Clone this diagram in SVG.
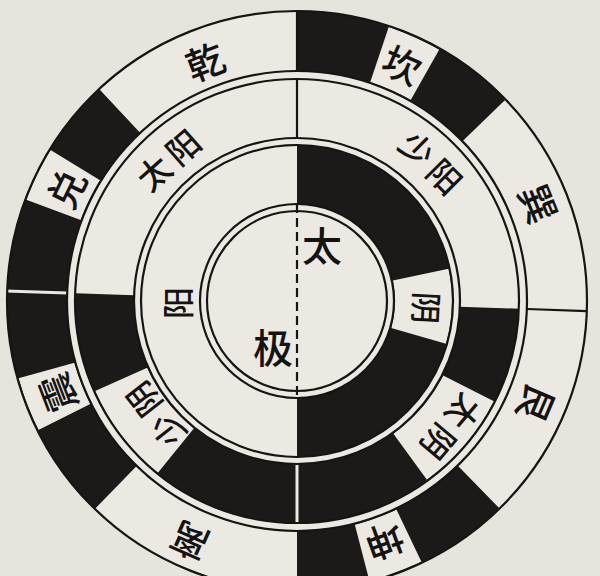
<svg xmlns="http://www.w3.org/2000/svg" width="600" height="576" viewBox="0 0 600 576">
<style>
.dk{fill:none;stroke:#1b1a19}
.wp{fill:none;stroke:#ece9e3}
.ln{fill:none;stroke:#161514;stroke-width:2.2}
.t{font-family:"Noto Sans CJK SC","Noto Sans CJK TC",sans-serif;fill:#141312;text-anchor:middle;dominant-baseline:central;font-weight:500}
.o{font-size:38px}
.m{font-size:33px;letter-spacing:6px}
.i{font-size:32px}
.c{font-size:40px}
</style>
<rect width="600" height="576" fill="#e7e4de"/>
<circle cx="297" cy="301" r="290" fill="#ece9e3"/>

<g id="outer-ring">
<circle class="dk" cx="297" cy="301" r="260" stroke-width="60" pathLength="360" stroke-dasharray="92.8 267.2" transform="rotate(-225.8 297 301)"/>
<circle class="dk" cx="297" cy="301" r="260" stroke-width="60" pathLength="360" stroke-dasharray="46 314" transform="rotate(-90 297 301)"/>
<circle class="dk" cx="297" cy="301" r="260" stroke-width="60" pathLength="360" stroke-dasharray="44.3 315.7" transform="rotate(-314.3 297 301)"/>
<circle class="wp" cx="297" cy="301" r="260" stroke-width="58" pathLength="360" stroke-dasharray="11 349" transform="rotate(-159.5 297 301)"/>
<circle class="wp" cx="297" cy="301" r="260" stroke-width="58" pathLength="360" stroke-dasharray="11 349" transform="rotate(-206.5 297 301)"/>
<circle class="wp" cx="297" cy="301" r="260" stroke-width="58" pathLength="360" stroke-dasharray="11 349" transform="rotate(-71.5 297 301)"/>
<circle class="wp" cx="297" cy="301" r="260" stroke-width="58" pathLength="360" stroke-dasharray="11 349" transform="rotate(64.5 297 301)"/>
<line x1="67.1" y1="293" x2="6" y2="290.9" stroke="#ece9e3" stroke-width="3"/>
<line class="ln" x1="297" y1="11" x2="297" y2="71"/>
<line class="ln" x1="526.9" y1="309" x2="586.8" y2="311.1"/>
</g>

<g id="middle-ring">
<circle class="dk" cx="297" cy="301" r="192.5" stroke-width="59" pathLength="360" stroke-dasharray="180 180" transform="rotate(2 297 301)"/>
<circle class="wp" cx="297" cy="301" r="192.5" stroke-width="57" pathLength="360" stroke-dasharray="27 333" transform="rotate(-231 297 301)"/>
<circle class="wp" cx="297" cy="301" r="192.5" stroke-width="57" pathLength="360" stroke-dasharray="27 333" transform="rotate(27 297 301)"/>
<line x1="297" y1="464" x2="297" y2="523" stroke="#ece9e3" stroke-width="3"/>
<line class="ln" x1="297" y1="79" x2="297" y2="138"/>
</g>

<g id="inner-ring">
<circle class="dk" cx="297" cy="301" r="126.5" stroke-width="59" pathLength="360" stroke-dasharray="180 180" transform="rotate(-90 297 301)"/>
<circle class="wp" cx="297" cy="301" r="126.5" stroke-width="57" pathLength="360" stroke-dasharray="28 332" transform="rotate(-12 297 301)"/>
</g>

<g id="circles">
<circle class="ln" cx="297" cy="301" r="290" stroke-width="2.5"/>
<circle class="ln" cx="297" cy="301" r="230"/>
<circle class="ln" cx="297" cy="301" r="222"/>
<circle class="ln" cx="297" cy="301" r="163" stroke-width="2.6"/>
<circle class="ln" cx="297" cy="301" r="156" stroke-width="2.6"/>
<circle class="ln" cx="297" cy="301" r="97"/>
<circle class="ln" cx="297" cy="301" r="90"/>
<line class="ln" x1="297" y1="204" x2="297" y2="398" stroke-width="2.6" stroke-dasharray="9 5"/>
</g>

<g id="bagua-labels">
<text class="t o" transform="translate(204.5 60) rotate(-21)">乾</text>
<text class="t o" transform="translate(65 188) rotate(-64)">兑</text>
<text class="t o" transform="translate(56 393.5) rotate(-111)">震</text>
<text class="t o" transform="translate(189 543) rotate(-156)">离</text>
<text class="t o" transform="translate(385 543) rotate(160)">坤</text>
<text class="t o" transform="translate(538 404) rotate(113)">艮</text>
<text class="t o" transform="translate(540 203) rotate(68)">巽</text>
<text class="t o" transform="translate(402.8 63.5) rotate(24)">坎</text>
</g>

<g id="sixiang-labels">
<text class="t m" transform="translate(170 157) rotate(-41.4)">太阳</text>
<text class="t m" transform="translate(434 164) rotate(45)">少阳</text>
<text class="t m" transform="translate(153 413) rotate(-128)">少阴</text>
<text class="t m" transform="translate(450 430) rotate(130)">太阴</text>
</g>

<g id="liangyi-labels">
<text class="t i" transform="translate(176 303) rotate(-90)">阳</text>
<text class="t i" transform="translate(428 308) rotate(93)">阴</text>
</g>

<g id="taiji-labels">
<text class="t c" x="322" y="244">太</text>
<text class="t c" x="273" y="346">极</text>
</g>
</svg>
